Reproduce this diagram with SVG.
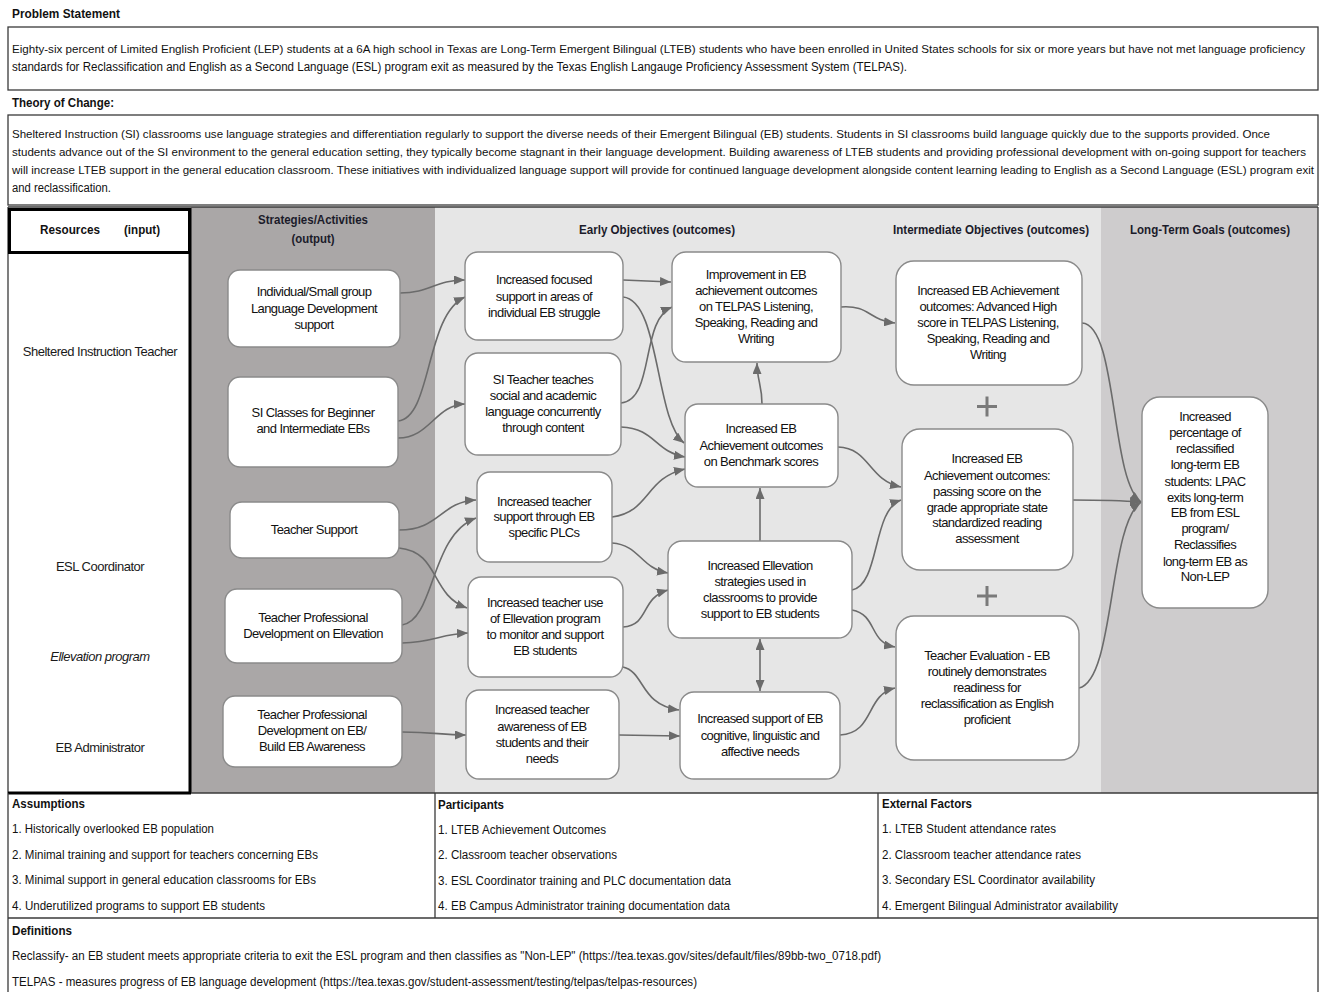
<svg xmlns="http://www.w3.org/2000/svg" width="1322" height="992" viewBox="0 0 1322 992">
  <defs>
    <style>
      .t { font-family: "Liberation Sans", Arial, sans-serif; font-size: 12.5px; fill: #111; }
      .tl { font-family: "Liberation Sans", Arial, sans-serif; font-size: 11px; fill: #111; }
      .h { font-family: "Liberation Sans", Arial, sans-serif; font-size: 13px; font-weight: bold; fill: #111; }
      .ch { font-family: "Liberation Sans", Arial, sans-serif; font-size: 13px; font-weight: bold; fill: #1b1b2a; text-anchor: middle; }
      .res { font-family: "Liberation Sans", Arial, sans-serif; font-size: 13px; fill: #1a1a1a; text-anchor: middle; letter-spacing: -0.5px; }
      .nt { font-family: "Liberation Sans", Arial, sans-serif; font-size: 13px; fill: #111; text-anchor: middle; letter-spacing: -0.6px; }
      .node { fill: #ffffff; stroke: #8a8a8a; stroke-width: 1.4; }
      .frame { fill: none; stroke: #3a3a3a; stroke-width: 1.3; }
      .conn { fill: none; stroke: #6b6b6b; stroke-width: 1.6; marker-end: url(#arrow); }
      .plus { stroke: #7a7a7a; stroke-width: 3; }
    </style>
    <marker id="arrow" markerUnits="userSpaceOnUse" markerWidth="11" markerHeight="9" refX="11" refY="4.5" orient="auto-start-reverse">
      <path d="M0,0 L11,4.5 L0,9 Z" fill="#6b6b6b"/>
    </marker>
  </defs>

  <rect x="0" y="0" width="1322" height="992" fill="#ffffff"/>

  <!-- Problem statement -->
  <g id="problem">
    <text class="h" x="12" y="18" textLength="108" lengthAdjust="spacingAndGlyphs">Problem Statement</text>
    <rect class="frame" x="8" y="27" width="1310" height="63"/>
    <text class="tl" x="12" y="53" textLength="1293" lengthAdjust="spacingAndGlyphs">Eighty-six percent of Limited English Proficient (LEP) students at a 6A high school in Texas are Long-Term Emergent Bilingual (LTEB) students who have been enrolled in United States schools for six or more years but have not met language proficiency</text>
    <text class="t" x="12" y="71" textLength="895" lengthAdjust="spacingAndGlyphs">standards for Reclassification and English as a Second Language (ESL) program exit as measured by the Texas English Langauge Proficiency Assessment System (TELPAS).</text>
  </g>

  <!-- Theory of change -->
  <g id="theory">
    <text class="h" x="12" y="107" textLength="102" lengthAdjust="spacingAndGlyphs">Theory of Change:</text>
    <rect class="frame" x="8" y="115" width="1310" height="90"/>
    <text class="tl" x="12" y="138" textLength="1258" lengthAdjust="spacingAndGlyphs">Sheltered Instruction (SI) classrooms use language strategies and differentiation regularly to support the diverse needs of their Emergent Bilingual (EB) students. Students in SI classrooms build language quickly due to the supports provided. Once</text>
    <text class="tl" x="12" y="156" textLength="1294" lengthAdjust="spacingAndGlyphs">students advance out of the SI environment to the general education setting, they typically become stagnant in their language development. Building awareness of LTEB students and providing professional development with on-going support for teachers</text>
    <text class="tl" x="12" y="174" textLength="1302" lengthAdjust="spacingAndGlyphs">will increase LTEB support in the general education classroom. These initiatives with individualized language support will provide for continued language development alongside content learning leading to English as a Second Language (ESL) program exit</text>
    <text class="t" x="12" y="192" textLength="99" lengthAdjust="spacingAndGlyphs">and reclassification.</text>
  </g>

  <!-- Column backgrounds -->
  <g id="columns">
    <rect x="8" y="207" width="183" height="586" fill="#ffffff"/>
    <rect x="191" y="207" width="244" height="586" fill="#aaa7a7"/>
    <rect x="435" y="207" width="666" height="586" fill="#e6e6e6"/>
    <rect x="1101" y="207" width="217" height="586" fill="#cecccd"/>
    <line x1="8" y1="207" x2="1318" y2="207" stroke="#3a3a3a" stroke-width="1.3"/>
    <line x1="1318" y1="207" x2="1318" y2="793" stroke="#3a3a3a" stroke-width="1.3"/>
    <line x1="8" y1="207" x2="8" y2="793" stroke="#3a3a3a" stroke-width="1.3"/>
    <line x1="190" y1="208" x2="190" y2="793" stroke="#000" stroke-width="3"/>
    <rect x="9.5" y="209.5" width="180" height="43" fill="none" stroke="#000" stroke-width="3"/>
    <text class="h" x="40" y="234" textLength="60" lengthAdjust="spacingAndGlyphs">Resources</text>
    <text class="h" x="124" y="234" textLength="36" lengthAdjust="spacingAndGlyphs">(input)</text>
    <text class="ch" x="313" y="224" textLength="110" lengthAdjust="spacingAndGlyphs">Strategies/Activities</text>
    <text class="ch" x="313" y="243" textLength="43" lengthAdjust="spacingAndGlyphs">(output)</text>
    <text class="ch" x="657" y="234" textLength="156" lengthAdjust="spacingAndGlyphs">Early Objectives (outcomes)</text>
    <text class="ch" x="991" y="234" textLength="196" lengthAdjust="spacingAndGlyphs">Intermediate Objectives (outcomes)</text>
    <text class="ch" x="1210" y="234" textLength="160" lengthAdjust="spacingAndGlyphs">Long-Term Goals (outcomes)</text>
  </g>

  <!-- Resources -->
  <g id="resources">
    <text class="res" x="100" y="356">Sheltered Instruction Teacher</text>
    <text class="res" x="100" y="571">ESL Coordinator</text>
    <text class="res" x="100" y="661" font-style="italic">Ellevation program</text>
    <text class="res" x="100" y="752">EB Administrator</text>
  </g>

  <!-- Connectors -->
  <g id="connectors">
    <path class="conn" d="M400,293 C430,293 435,280 465,280"/>
    <path class="conn" d="M398,421 C432,418 425,315 465,297"/>
    <path class="conn" d="M398,438 C430,438 435,405 465,404"/>
    <path class="conn" d="M399,530 C440,530 440,502 476,500"/>
    <path class="conn" d="M402,625 C435,620 430,535 476,518"/>
    <path class="conn" d="M399,548 C440,552 430,595 467,608"/>
    <path class="conn" d="M402,643 C435,642 440,634 468,633"/>
    <path class="conn" d="M402,732 C435,732 440,735 466,735"/>

    <path class="conn" d="M623,280 L671,282"/>
    <path class="conn" d="M623,297 C660,300 655,420 684,443"/>
    <path class="conn" d="M621,403 C655,400 640,320 672,307"/>
    <path class="conn" d="M621,427 C655,428 655,452 685,457"/>
    <path class="conn" d="M612,517 C650,512 645,478 685,469"/>
    <path class="conn" d="M612,543 C640,545 640,568 668,573"/>
    <path class="conn" d="M623,627 C650,625 640,598 668,590"/>
    <path class="conn" d="M623,667 C645,672 640,705 679,710"/>
    <path class="conn" d="M619,735 L680,736"/>

    <path class="conn" d="M762,404 C762,385 757,380 757,363"/>
    <path class="conn" d="M760,541 L760,488"/>
    <path class="conn" d="M760,639 L760,691" marker-start="url(#arrow)"/>

    <path class="conn" d="M841,307 C870,305 868,320 895,323"/>
    <path class="conn" d="M838,447 C870,448 868,480 901,487"/>
    <path class="conn" d="M852,590 C880,585 872,510 901,500"/>
    <path class="conn" d="M852,610 C878,615 868,642 895,647"/>
    <path class="conn" d="M840,735 C875,733 865,695 895,688"/>

    <path class="conn" d="M1082,323 C1118,325 1110,480 1141,502"/>
    <path class="conn" d="M1073,500 C1100,500 1115,500 1141,502"/>
    <path class="conn" d="M1079,688 C1115,680 1108,525 1141,502"/>
  </g>

  <!-- Strategies / activities -->
  <g id="s1">
    <rect class="node" x="228" y="270" width="172" height="77" rx="12"/>
    <text class="nt" x="314" y="296"><tspan x="314">Individual/Small group</tspan><tspan x="314" dy="16.5">Language Development</tspan><tspan x="314" dy="16.5">support</tspan></text>
  </g>
  <g id="s2">
    <rect class="node" x="228" y="377" width="170" height="90" rx="12"/>
    <text class="nt" x="313" y="417"><tspan x="313">SI Classes for Beginner</tspan><tspan x="313" dy="16">and Intermediate EBs</tspan></text>
  </g>
  <g id="s3">
    <rect class="node" x="230" y="502" width="169" height="56" rx="12"/>
    <text class="nt" x="314" y="534">Teacher Support</text>
  </g>
  <g id="s4">
    <rect class="node" x="225" y="589" width="177" height="74" rx="12"/>
    <text class="nt" x="313" y="622"><tspan x="313">Teacher Professional</tspan><tspan x="313" dy="16">Development on Ellevation</tspan></text>
  </g>
  <g id="s5">
    <rect class="node" x="223" y="696" width="179" height="71" rx="12"/>
    <text class="nt" x="312" y="719"><tspan x="312">Teacher Professional</tspan><tspan x="312" dy="16">Development on EB/</tspan><tspan x="312" dy="16">Build EB Awareness</tspan></text>
  </g>

  <!-- Early objectives: first tier -->
  <g id="a1">
    <rect class="node" x="465" y="252" width="158" height="88" rx="13"/>
    <text class="nt" x="544" y="284"><tspan x="544">Increased focused</tspan><tspan x="544" dy="16.5">support in areas of</tspan><tspan x="544" dy="16">individual EB struggle</tspan></text>
  </g>
  <g id="a2">
    <rect class="node" x="465" y="353" width="156" height="102" rx="13"/>
    <text class="nt" x="543" y="384"><tspan x="543">SI Teacher teaches</tspan><tspan x="543" dy="16.3">social and academic</tspan><tspan x="543" dy="16">language concurrently</tspan><tspan x="543" dy="16">through content</tspan></text>
  </g>
  <g id="a3">
    <rect class="node" x="477" y="472" width="135" height="90" rx="13"/>
    <text class="nt" x="544" y="505.5"><tspan x="544">Increased teacher</tspan><tspan x="544" dy="15.5">support through EB</tspan><tspan x="544" dy="16">specific PLCs</tspan></text>
  </g>
  <g id="a4">
    <rect class="node" x="468" y="577" width="155" height="100" rx="13"/>
    <text class="nt" x="545" y="607"><tspan x="545">Increased teacher use</tspan><tspan x="545" dy="16">of Ellevation program</tspan><tspan x="545" dy="16">to monitor and support</tspan><tspan x="545" dy="16">EB students</tspan></text>
  </g>
  <g id="a5">
    <rect class="node" x="466" y="690" width="153" height="89" rx="13"/>
    <text class="nt" x="542" y="714"><tspan x="542">Increased teacher</tspan><tspan x="542" dy="16.5">awareness of EB</tspan><tspan x="542" dy="16">students and their</tspan><tspan x="542" dy="16">needs</tspan></text>
  </g>

  <!-- Early objectives: second tier -->
  <g id="b1">
    <rect class="node" x="672" y="252" width="169" height="110" rx="14"/>
    <text class="nt" x="756" y="279"><tspan x="756">Improvement in EB</tspan><tspan x="756" dy="16.2">achievement outcomes</tspan><tspan x="756" dy="16">on TELPAS Listening,</tspan><tspan x="756" dy="16">Speaking, Reading and</tspan><tspan x="756" dy="15.6">Writing</tspan></text>
  </g>
  <g id="b2">
    <rect class="node" x="685" y="404" width="153" height="83" rx="13"/>
    <text class="nt" x="761" y="433"><tspan x="761">Increased EB</tspan><tspan x="761" dy="17">Achievement outcomes</tspan><tspan x="761" dy="16">on Benchmark scores</tspan></text>
  </g>
  <g id="b3">
    <rect class="node" x="668" y="541" width="184" height="97" rx="14"/>
    <text class="nt" x="760" y="570"><tspan x="760">Increased Ellevation</tspan><tspan x="760" dy="16">strategies used in</tspan><tspan x="760" dy="16">classrooms to provide</tspan><tspan x="760" dy="16">support to EB students</tspan></text>
  </g>
  <g id="b4">
    <rect class="node" x="680" y="692" width="160" height="87" rx="14"/>
    <text class="nt" x="760" y="723"><tspan x="760">Increased support of EB</tspan><tspan x="760" dy="16.5">cognitive, linguistic and</tspan><tspan x="760" dy="16">affective needs</tspan></text>
  </g>

  <!-- Intermediate objectives -->
  <g id="c1">
    <rect class="node" x="896" y="261" width="186" height="124" rx="18"/>
    <text class="nt" x="988" y="294.5"><tspan x="988">Increased EB Achievement</tspan><tspan x="988" dy="16.4">outcomes: Advanced High</tspan><tspan x="988" dy="16">score in TELPAS Listening,</tspan><tspan x="988" dy="15.6">Speaking, Reading and</tspan><tspan x="988" dy="16.4">Writing</tspan></text>
  </g>
  <g id="plus1">
    <line class="plus" x1="977" y1="406.5" x2="997" y2="406.5"/>
    <line class="plus" x1="987" y1="396.5" x2="987" y2="416.5"/>
  </g>
  <g id="c2">
    <rect class="node" x="902" y="429" width="171" height="141" rx="18"/>
    <text class="nt" x="987" y="463"><tspan x="987">Increased EB</tspan><tspan x="987" dy="16.5">Achievement outcomes:</tspan><tspan x="987" dy="16.5">passing score on the</tspan><tspan x="987" dy="15.8">grade appropriate state</tspan><tspan x="987" dy="15.6">standardized reading</tspan><tspan x="987" dy="16">assessment</tspan></text>
  </g>
  <g id="plus2">
    <line class="plus" x1="977" y1="596" x2="997" y2="596"/>
    <line class="plus" x1="987" y1="586" x2="987" y2="606"/>
  </g>
  <g id="c3">
    <rect class="node" x="896" y="616" width="183" height="144" rx="18"/>
    <text class="nt" x="987" y="660"><tspan x="987">Teacher Evaluation - EB</tspan><tspan x="987" dy="15.8">routinely demonstrates</tspan><tspan x="987" dy="15.8">readiness for</tspan><tspan x="987" dy="16.6">reclassification as English</tspan><tspan x="987" dy="16">proficient</tspan></text>
  </g>

  <!-- Long-term goal -->
  <g id="d1">
    <rect class="node" x="1142" y="397" width="126" height="211" rx="18"/>
    <text class="nt" x="1205" y="421"><tspan x="1205">Increased</tspan><tspan x="1205" dy="16">percentage of</tspan><tspan x="1205" dy="16">reclassified</tspan><tspan x="1205" dy="16">long-term EB</tspan><tspan x="1205" dy="16.5">students: LPAC</tspan><tspan x="1205" dy="16.3">exits long-term</tspan><tspan x="1205" dy="15.4">EB from ESL</tspan><tspan x="1205" dy="16">program/</tspan><tspan x="1205" dy="15.3">Reclassifies</tspan><tspan x="1205" dy="17.2">long-term EB as</tspan><tspan x="1205" dy="15.6">Non-LEP</tspan></text>
  </g>

  <!-- Assumptions / participants / external factors / definitions -->
  <g id="tables">
    <line x1="8" y1="793" x2="1318" y2="793" stroke="#3a3a3a" stroke-width="1.5"/>
    <line x1="8" y1="793" x2="191" y2="793" stroke="#000" stroke-width="3"/>
    <line x1="8" y1="793" x2="8" y2="992" stroke="#3a3a3a" stroke-width="1.3"/>
    <line x1="1318" y1="793" x2="1318" y2="992" stroke="#3a3a3a" stroke-width="1.3"/>
    <line x1="435" y1="793" x2="435" y2="918" stroke="#3a3a3a" stroke-width="1.3"/>
    <line x1="878" y1="793" x2="878" y2="918" stroke="#3a3a3a" stroke-width="1.3"/>
    <line x1="8" y1="918" x2="1318" y2="918" stroke="#3a3a3a" stroke-width="1.3"/>

    <text class="h" x="12" y="808" textLength="73" lengthAdjust="spacingAndGlyphs">Assumptions</text>
    <text class="t" x="12" y="833" textLength="202" lengthAdjust="spacingAndGlyphs">1. Historically overlooked EB population</text>
    <text class="t" x="12" y="859" textLength="306" lengthAdjust="spacingAndGlyphs">2. Minimal training and support for teachers concerning EBs</text>
    <text class="t" x="12" y="884" textLength="304" lengthAdjust="spacingAndGlyphs">3. Minimal support in general education classrooms for EBs</text>
    <text class="t" x="12" y="910" textLength="253" lengthAdjust="spacingAndGlyphs">4. Underutilized programs to support EB students</text>

    <text class="h" x="438" y="809" textLength="66" lengthAdjust="spacingAndGlyphs">Participants</text>
    <text class="t" x="438" y="834" textLength="168" lengthAdjust="spacingAndGlyphs">1. LTEB Achievement Outcomes</text>
    <text class="t" x="438" y="859" textLength="179" lengthAdjust="spacingAndGlyphs">2. Classroom teacher observations</text>
    <text class="t" x="438" y="885" textLength="293" lengthAdjust="spacingAndGlyphs">3. ESL Coordinator training and PLC documentation data</text>
    <text class="t" x="438" y="910" textLength="292" lengthAdjust="spacingAndGlyphs">4. EB Campus Administrator training documentation data</text>

    <text class="h" x="882" y="808" textLength="90" lengthAdjust="spacingAndGlyphs">External Factors</text>
    <text class="t" x="882" y="833" textLength="174" lengthAdjust="spacingAndGlyphs">1. LTEB Student attendance rates</text>
    <text class="t" x="882" y="859" textLength="199" lengthAdjust="spacingAndGlyphs">2. Classroom teacher attendance rates</text>
    <text class="t" x="882" y="884" textLength="213" lengthAdjust="spacingAndGlyphs">3. Secondary ESL Coordinator availability</text>
    <text class="t" x="882" y="910" textLength="236" lengthAdjust="spacingAndGlyphs">4. Emergent Bilingual Administrator availability</text>

    <text class="h" x="12" y="935" textLength="60" lengthAdjust="spacingAndGlyphs">Definitions</text>
    <text class="t" x="12" y="960" textLength="869" lengthAdjust="spacingAndGlyphs">Reclassify- an EB student meets appropriate criteria to exit the ESL program and then classifies as "Non-LEP" (https://tea.texas.gov/sites/default/files/89bb-two_0718.pdf)</text>
    <text class="t" x="12" y="986" textLength="685" lengthAdjust="spacingAndGlyphs">TELPAS - measures progress of EB language development (https://tea.texas.gov/student-assessment/testing/telpas/telpas-resources)</text>
  </g>
</svg>
